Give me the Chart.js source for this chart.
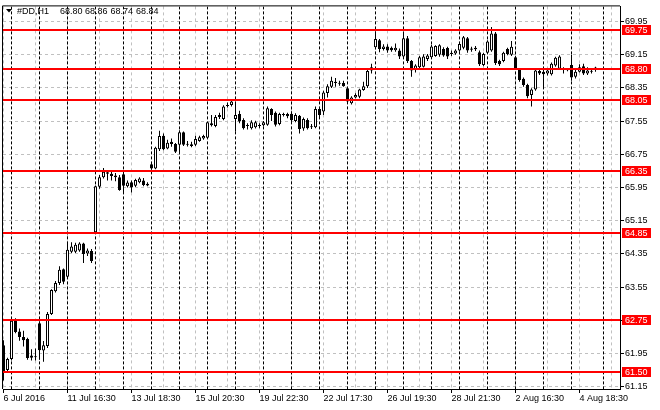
<!DOCTYPE html>
<html><head><meta charset="utf-8">
<script src="https://cdn.jsdelivr.net/npm/chart.js@4.4.1/dist/chart.umd.min.js"></script>
<style>html,body{margin:0;padding:0;background:#fff;overflow:hidden}#wrap{width:660px;height:410px}</style>
</head><body><div id="wrap"><canvas id="c" width="660" height="410"></canvas></div>
<script>
const opens = [62.15,61.55,61.82,62.75,62.48,62.35,62.30,61.90,61.87,62.68,
62.02,62.13,62.90,63.45,63.65,63.98,63.80,64.40,64.40,64.43,
64.60,64.36,64.42,64.87,65.97,66.20,66.32,66.28,66.24,66.20,
66.27,65.98,66.08,65.99,66.08,66.12,66.04,66.51,66.41,66.87,
67.20,66.89,67.05,67.00,66.98,67.28,67.00,66.99,66.98,67.07,
67.13,67.15,67.45,67.43,67.70,67.60,67.93,67.94,67.60,67.72,
67.58,67.45,67.38,67.40,67.45,67.45,67.46,67.84,67.75,67.48,
67.72,67.72,67.73,67.55,67.68,67.37,67.58,67.42,67.40,67.84,
67.78,68.23,68.38,68.50,68.47,68.47,68.34,67.98,68.12,68.14,
68.30,68.39,68.77,69.33,69.50,69.29,69.35,69.32,69.26,69.25,
69.11,69.55,69.00,68.78,68.85,68.86,69.05,69.09,69.12,69.15,
69.29,69.31,69.20,69.18,69.25,69.32,69.55,69.30,69.28,69.21,
68.90,69.20,69.25,69.66,69.00,69.00,69.29,69.15,69.09,68.81,
68.57,68.42,68.18,68.31,68.76,68.74,68.70,68.68,68.89,68.81,
68.82,68.80,68.90,68.62,68.74,68.87,68.70,68.76,68.80];
const highs = [62.27,61.85,62.78,62.80,62.55,62.50,62.33,62.05,62.07,62.72,
62.25,62.95,63.50,63.70,64.05,64.00,64.60,64.63,64.62,64.63,
64.62,64.48,64.47,66.00,66.25,66.42,66.36,66.33,66.30,66.25,
66.30,66.12,66.12,66.16,66.20,66.18,66.08,66.55,66.93,67.32,
67.25,67.10,67.13,67.02,67.33,67.30,67.07,67.05,67.20,67.20,
67.22,67.53,67.70,67.70,67.75,67.93,68.00,68.05,67.97,67.80,
67.62,67.50,67.57,67.56,67.50,67.55,67.90,67.86,67.78,67.75,
67.75,67.75,67.78,67.74,67.70,67.64,67.62,67.48,67.90,67.88,
68.28,68.44,68.62,68.59,68.52,68.52,68.36,68.15,68.22,68.33,
68.50,68.78,68.93,69.71,69.53,69.40,69.40,69.35,69.42,69.30,
69.70,69.60,69.02,68.92,69.12,69.16,69.17,69.39,69.38,69.40,
69.33,69.34,69.25,69.28,69.44,69.60,69.58,69.34,69.36,69.25,
69.20,69.50,69.82,69.70,69.03,69.22,69.32,69.48,69.12,68.83,
68.60,68.45,68.34,68.80,68.82,68.80,68.82,68.96,69.10,69.14,
68.85,68.83,69.15,68.78,68.92,68.93,68.85,68.82,68.86];
const lows = [61.30,61.48,61.78,62.44,62.26,62.12,61.80,61.78,61.78,61.80,
61.75,62.08,62.88,63.42,63.60,63.62,63.78,64.37,64.37,64.40,
64.13,64.30,64.13,64.85,65.92,66.17,66.12,66.12,66.10,65.87,
65.83,65.95,65.83,65.96,66.05,65.98,65.98,66.38,66.39,66.83,
66.85,66.87,66.93,66.78,66.78,66.95,66.94,66.92,66.95,67.05,
67.10,67.12,67.42,67.40,67.60,67.57,67.88,67.90,67.30,67.50,
67.35,67.35,67.35,67.37,67.38,67.42,67.44,67.55,67.42,67.45,
67.66,67.62,67.50,67.52,67.25,67.32,67.35,67.36,67.38,67.65,
67.70,68.12,68.35,68.38,68.40,68.38,67.96,67.95,68.10,68.10,
68.28,68.35,68.70,69.28,69.21,69.25,69.20,69.22,69.22,69.05,
69.08,68.95,68.62,68.72,68.82,68.84,69.00,69.05,69.10,69.10,
69.10,69.05,69.12,69.15,69.22,69.28,69.20,69.22,69.24,68.88,
68.87,69.17,69.22,68.90,68.88,68.97,69.14,69.12,68.78,68.50,
68.38,68.10,67.90,68.28,68.66,68.34,68.65,68.65,68.86,68.78,
68.70,68.75,68.52,68.58,68.72,68.66,68.66,68.70,68.74];
const closes = [61.50,61.82,62.74,62.47,62.35,62.27,61.84,61.85,61.88,62.03,
62.15,62.90,63.48,63.65,63.97,63.68,64.45,64.53,64.57,64.60,
64.35,64.43,64.18,65.98,66.20,66.33,66.28,66.23,66.20,65.89,
65.99,66.07,65.95,66.13,66.17,66.01,66.00,66.41,66.91,67.19,
66.87,67.03,67.00,66.81,67.28,66.98,66.98,66.95,67.12,67.16,
67.19,67.52,67.50,67.65,67.65,67.90,67.92,68.02,67.70,67.54,
67.38,67.44,67.52,67.52,67.44,67.52,67.86,67.70,67.46,67.72,
67.70,67.67,67.57,67.70,67.36,67.60,67.38,67.41,67.84,67.70,
68.24,68.39,68.52,68.47,68.45,68.39,68.02,68.12,68.18,68.31,
68.39,68.76,68.85,69.53,69.29,69.35,69.25,69.26,69.32,69.11,
69.55,69.00,68.77,68.89,69.09,69.11,69.13,69.35,69.36,69.38,
69.13,69.11,69.17,69.25,69.41,69.57,69.25,69.27,69.32,68.92,
69.17,69.47,69.66,68.95,68.92,69.20,69.17,69.34,68.81,68.54,
68.42,68.15,68.31,68.77,68.70,68.68,68.77,68.93,69.08,69.11,
68.78,68.78,68.60,68.74,68.85,68.70,68.77,68.74,68.84];

const xTickBars = [0,16,32,48,64,80,96,112,128,144];
const xTickLabels = ["6 Jul 2016","11 Jul 16:30","13 Jul 18:30","15 Jul 20:30","19 Jul 22:30","22 Jul 17:30","26 Jul 19:30","28 Jul 21:30","2 Aug 16:30","4 Aug 18:30"];
const xGridBars = [0,8,16,24,32,40,48,56,64,72,80,88,96,104,112,120,128,136,144,152];
const daySeparators = [2,9,16,23,30,37,44,51,58,65,72,79,86,93,100,107,114,121,128,135,142,150];
const yTicks = [61.15,61.95,62.75,63.55,64.35,65.15,65.95,66.75,67.55,68.35,69.15,69.95];
const levels = [69.75,68.80,68.05,66.35,64.85,62.75,61.50];
const titleParts = ["#DD,H1","68.80","68.86","68.74","68.84"];

const FONT = "'Liberation Sans', Arial, sans-serif";
Chart.defaults.font.family = FONT;
Chart.defaults.font.size = 9;
Chart.defaults.color = '#000';

const wickData = opens.map((o, i) => ({x: i, y: [lows[i], highs[i]]}));
const bodyData = opens.map((o, i) => {
  let lo = Math.min(o, closes[i]), hi = Math.max(o, closes[i]);
  if (hi - lo < 0.024) { const m = (hi + lo) / 2; lo = m - 0.012; hi = m + 0.012; }
  return {x: i, y: [lo, hi]};
});

const deco = {
  id: 'deco',
  beforeDatasetsDraw(chart) {
    const {ctx, chartArea: a, scales: {x}} = chart;
    ctx.save();
    ctx.beginPath(); ctx.rect(a.left, a.top, a.right - a.left, a.bottom - a.top); ctx.clip();
    ctx.strokeStyle = '#000'; ctx.lineWidth = 1; ctx.setLineDash([3, 2]);
    daySeparators.forEach(b => {
      const px = Math.round(x.getPixelForValue(b) - 0.5) + 0.5;
      ctx.beginPath(); ctx.moveTo(px, a.top); ctx.lineTo(px, a.bottom); ctx.stroke();
    });
    ctx.restore();
  },
  afterDraw(chart) {
    const {ctx, chartArea: a, scales: {y}} = chart;
    ctx.save();
    ctx.strokeStyle = '#ff0000'; ctx.lineWidth = 2;
    levels.forEach(l => {
      const py = Math.round(y.getPixelForValue(l));
      ctx.beginPath(); ctx.moveTo(a.left, py); ctx.lineTo(a.right, py); ctx.stroke();
    });
    ctx.font = "9px " + FONT; ctx.textBaseline = 'middle'; ctx.textAlign = 'left';
    levels.forEach(l => {
      const py = Math.round(y.getPixelForValue(l));
      ctx.fillStyle = '#ff0000'; ctx.fillRect(a.right + 2, py - 5, 29, 10);
      ctx.fillStyle = '#ffffff'; ctx.fillText(l.toFixed(2), a.right + 5, py + 0.5);
    });
    ctx.strokeStyle = '#000'; ctx.lineWidth = 1;
    ctx.beginPath();
    ctx.moveTo(a.left - 0.5, a.bottom); ctx.lineTo(a.left - 0.5, a.top - 0.5); ctx.lineTo(a.right, a.top - 0.5);
    ctx.stroke();
    ctx.fillStyle = '#000';
    ctx.beginPath(); ctx.moveTo(6, 9); ctx.lineTo(12, 9); ctx.lineTo(9, 12.5); ctx.closePath(); ctx.fill();
    ctx.textBaseline = 'alphabetic';
    const tx = [17, 60, 85, 110.5, 136];
    titleParts.forEach((t, i) => ctx.fillText(t, tx[i], 13.5));
    ctx.restore();
  }
};

new Chart(document.getElementById('c'), {
  type: 'bar',
  data: {datasets: [
    {data: wickData, backgroundColor: '#000', borderWidth: 0, barThickness: 1, grouped: false, order: 2, inflateAmount: 0},
    {data: bodyData, backgroundColor: c => closes[c.dataIndex] >= opens[c.dataIndex] ? '#fff' : '#000',
     borderColor: '#000', borderWidth: 1, borderSkipped: false, barThickness: 3, grouped: false, order: 1, inflateAmount: 0}
  ]},
  options: {
    responsive: false, animation: false, devicePixelRatio: 1,
    layout: {padding: {left: 3, top: 2, right: 0, bottom: 0}},
    plugins: {legend: {display: false}, tooltip: {enabled: false}},
    scales: {
      x: {type: 'linear', position: 'bottom', min: -0.125, max: 154.125, offset: false,
        afterBuildTicks: s => { s.ticks = xGridBars.map(v => ({value: v})); },
        afterFit: s => { s.height = 21; },
        ticks: {autoSkip: false, maxRotation: 0, minRotation: 0, align: 'start', padding: 0,
          callback: v => { const k = xTickBars.indexOf(v); return k >= 0 ? xTickLabels[k] : ''; }},
        grid: {offset: false, color: '#c0c0c0', lineWidth: 1, tickLength: 4,
          tickColor: c => (c.tick && xTickBars.includes(c.tick.value)) ? '#000' : 'rgba(0,0,0,0)'},
        border: {display: true, color: '#000', dash: [3, 3]}
      },
      y: {type: 'linear', position: 'right', min: 61.095, max: 70.3145,
        afterBuildTicks: s => { s.ticks = yTicks.map(v => ({value: v})); },
        afterFit: s => { s.width = 40; },
        ticks: {autoSkip: false, padding: 1, callback: v => Number(v).toFixed(2)},
        grid: {color: '#c0c0c0', lineWidth: 1, tickLength: 4, tickColor: '#000'},
        border: {display: true, color: '#000', dash: [3, 3]}
      }
    }
  },
  plugins: [deco]
});
</script></body></html>
